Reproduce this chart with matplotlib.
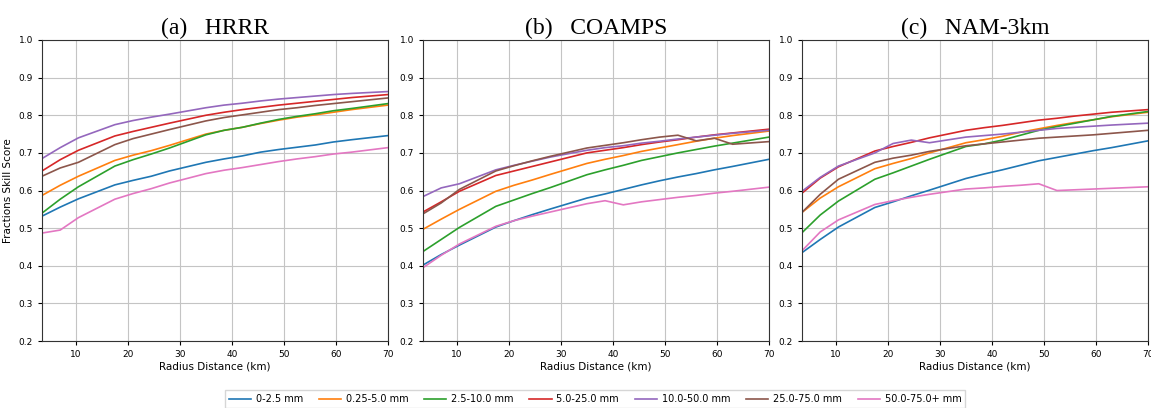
import matplotlib
matplotlib.use('Agg')
import matplotlib.pyplot as plt

# radius distances (km)
radius = [3.5, 7, 10.5, 17.5, 21, 24.5, 28, 35, 38.5, 42, 45.5, 49, 52.5, 56, 59.5, 63, 70]

labels = ['0-2.5 mm', '0.25-5.0 mm', '2.5-10.0 mm', '5.0-25.0 mm',
          '10.0-50.0 mm', '25.0-75.0 mm', '50.0-75.0+ mm']

# (a) HRRR
hrrr = [
    [.532, .556, .578, .615, .627, .638, .652, .675, .684, .692, .702, .709, .715, .721, .729, .735, .746],
    [.587, .614, .638, .680, .694, .706, .720, .750, .760, .768, .778, .787, .795, .801, .808, .815, .827],
    [.540, .577, .610, .665, .682, .697, .713, .748, .760, .768, .779, .789, .797, .804, .812, .818, .831],
    [.652, .682, .707, .745, .757, .768, .779, .800, .808, .815, .821, .827, .832, .837, .842, .847, .855],
    [.685, .714, .740, .775, .786, .795, .803, .820, .827, .832, .838, .843, .847, .851, .855, .858, .863],
    [.638, .660, .675, .722, .738, .750, .762, .785, .794, .801, .808, .815, .820, .826, .831, .836, .846],
    [.487, .495, .528, .577, .592, .605, .620, .645, .654, .661, .669, .677, .684, .690, .697, .702, .714],
]

# (b) COAMPS
coamps = [
    [.402, .430, .455, .503, .520, .536, .551, .580, .591, .603, .615, .626, .636, .645, .655, .664, .683],
    [.497, .524, .550, .598, .614, .628, .643, .672, .683, .693, .704, .713, .722, .731, .739, .746, .758],
    [.438, .470, .502, .558, .575, .592, .608, .642, .655, .667, .680, .690, .700, .709, .718, .726, .742],
    [.543, .570, .598, .640, .652, .664, .676, .700, .707, .714, .722, .729, .735, .742, .748, .753, .763],
    [.584, .607, .618, .655, .667, .678, .689, .707, .714, .719, .726, .731, .737, .742, .747, .752, .760],
    [.538, .567, .603, .652, .666, .679, .691, .713, .720, .727, .735, .742, .747, .732, .739, .723, .730],
    [.395, .428, .458, .505, .520, .532, .543, .565, .573, .562, .570, .576, .582, .587, .593, .598, .609],
]

# (c) NAM-3km
nam = [
    [.435, .470, .503, .555, .570, .586, .601, .632, .644, .655, .667, .679, .688, .697, .706, .714, .732],
    [.542, .580, .610, .658, .672, .685, .700, .727, .735, .744, .755, .764, .773, .781, .788, .796, .808],
    [.488, .535, .572, .630, .647, .665, .683, .717, .724, .734, .747, .760, .770, .779, .788, .797, .810],
    [.593, .633, .663, .705, .717, .728, .740, .760, .767, .773, .780, .787, .792, .798, .803, .808, .815],
    [.598, .635, .665, .700, .725, .734, .727, .742, .746, .750, .755, .760, .765, .768, .771, .774, .779],
    [.542, .590, .630, .675, .686, .694, .704, .719, .724, .729, .734, .739, .742, .745, .748, .752, .760],
    [.440, .490, .522, .563, .573, .582, .590, .604, .607, .611, .614, .618, .600, .602, .604, .606, .610],
]

titles = ['(a)   HRRR', '(b)   COAMPS', '(c)   NAM-3km']
panels = [hrrr, coamps, nam]
lefts = [0.0365, 0.3675, 0.6968]

fig = plt.figure(figsize=(11.51, 4.08), dpi=100)

for i in range(3):
    ax = fig.add_axes([lefts[i], 0.164, 0.3006, 0.738])
    for j, series in enumerate(panels[i]):
        ax.plot(radius, series, color='C%d' % j, linewidth=1.2, label=labels[j])
    ax.set_xlim(3.5, 70)
    ax.set_ylim(0.2, 1.0)
    ax.set_xticks([10, 20, 30, 40, 50, 60, 70])
    ax.set_yticks([0.2, 0.3, 0.4, 0.5, 0.6, 0.7, 0.8, 0.9, 1.0])
    ax.grid(True, color='#c4c4c4', linewidth=0.8)
    ax.tick_params(labelsize=6.5, length=3)
    ax.set_xlabel('Radius Distance (km)', fontsize=7.5, labelpad=2)
    if i == 0:
        ax.set_ylabel('Fractions Skill Score', fontsize=7.5)
    ax.set_title(titles[i], fontsize=17, family='Liberation Serif', pad=4)
    for s in ax.spines.values():
        s.set_color('#333333')

handles, labs = ax.get_legend_handles_labels()
fig.legend(handles, labs, loc='center', bbox_to_anchor=(0.517, 0.022), ncol=7,
           fontsize=7, handlelength=2.3, handletextpad=0.5, columnspacing=1.6,
           fancybox=False, borderpad=0.4, edgecolor='#cccccc')

plt.savefig('out.png', dpi=100)
